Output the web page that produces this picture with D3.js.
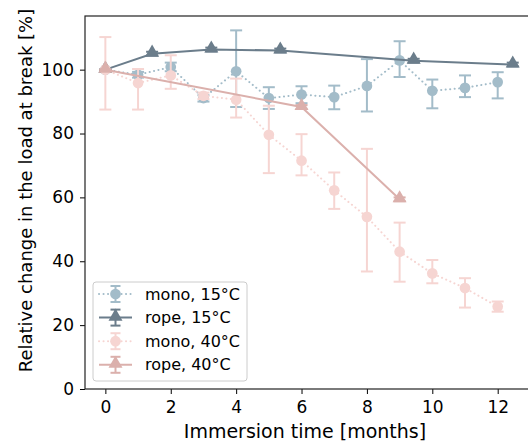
<!DOCTYPE html>
<html>
<head>
<meta charset="utf-8">
<script src="https://cdn.jsdelivr.net/npm/d3@7"></script>
<style>
  body { margin: 0; background: #fff; }
  svg { font-family: "DejaVu Sans", sans-serif; }
</style>
</head>
<body>
<div id="chart"></div>
<script>
// mono fibres, 15°C
const mono15X = [0, 1, 2, 3, 4, 5, 6, 7, 8, 9, 10, 11, 12];
const mono15Y = [100, 98.4, 100.8, 91.1, 99.5, 91.1, 92.2, 91.4, 94.9, 102.9, 93.4, 94.3, 96.1];
const mono15Lo = [100, 97.5, 99.5, 90, 88.3, 87.7, 89.5, 87.6, 86.9, 97.7, 87.9, 91.4, 91.0];
const mono15Hi = [100, 99.3, 102.2, 92, 112.3, 94.5, 94.8, 95.0, 103.3, 108.9, 96.9, 98.2, 99.2];

// rope, 15°C
const rope15X = [0, 1.43, 3.24, 5.35, 9.43, 12.46];
const rope15Y = [100, 105.0, 106.3, 106.0, 102.8, 101.6];
const rope15Lo = [100, 104.4, 105.7, 105.4, 102.2, 101.0];
const rope15Hi = [100, 105.6, 106.9, 106.6, 103.4, 102.2];

// mono fibres, 40°C
const mono40X = [0, 1, 2, 3, 4, 5, 6, 7, 8, 9, 10, 11, 12];
const mono40Y = [100, 95.8, 98.2, 91.8, 90.6, 79.6, 71.5, 62.2, 53.9, 43.0, 36.2, 31.6, 25.8];
const mono40Lo = [87.5, 87.5, 94.0, 90.8, 85.0, 67.6, 66.9, 56.4, 36.8, 33.6, 33.1, 25.5, 24.2];
const mono40Hi = [110.2, 100.2, 104.5, 92.8, 97.2, 88.7, 79.8, 67.8, 75.2, 52.1, 40.4, 34.7, 27.4];

// rope, 40°C
const rope40X = [0, 6, 9];
const rope40Y = [100, 88.3, 59.4];
const rope40Lo = [100, 87.7, 58.8];
const rope40Hi = [100, 88.9, 60.0];

const xTicks = [0, 2, 4, 6, 8, 10, 12];
const yTicks = [0, 20, 40, 60, 80, 100];

const series = [
  { name: "mono, 15°C", x: mono15X, y: mono15Y, lo: mono15Lo, hi: mono15Hi, color: "#a3bcc9", dotted: true, marker: "circle" },
  { name: "rope, 15°C", x: rope15X, y: rope15Y, lo: rope15Lo, hi: rope15Hi, color: "#6b7d8b", dotted: false, marker: "triangle" },
  { name: "mono, 40°C", x: mono40X, y: mono40Y, lo: mono40Lo, hi: mono40Hi, color: "#f6d5d2", dotted: true, marker: "circle" },
  { name: "rope, 40°C", x: rope40X, y: rope40Y, lo: rope40Lo, hi: rope40Hi, color: "#dbb0ac", dotted: false, marker: "triangle" }
];

const W = 528, H = 447;
const margin = { left: 85, top: 16 };
const plotW = 448, plotH = 373;

const svg = d3.select("#chart").append("svg")
  .attr("width", W)
  .attr("height", H);

const x = d3.scaleLinear().domain([-0.623, 13.08]).range([margin.left, margin.left + plotW]);
const y = d3.scaleLinear().domain([0, 116.8]).range([margin.top + plotH, margin.top]);

// axes
const xAxis = svg.append("g")
  .attr("transform", `translate(0,${margin.top + plotH})`)
  .call(d3.axisBottom(x).tickValues(xTicks).tickSize(5).tickPadding(7));
const yAxis = svg.append("g")
  .attr("transform", `translate(${margin.left},0)`)
  .call(d3.axisLeft(y).tickValues(yTicks).tickSize(5).tickPadding(6));

[xAxis, yAxis].forEach(a => {
  a.selectAll("text").attr("font-size", 17).attr("fill", "#000").attr("font-family", "DejaVu Sans");
  a.selectAll("line").attr("stroke", "#000").attr("stroke-width", 1);
  a.select(".domain").remove();
});

// spines
svg.append("rect")
  .attr("x", margin.left).attr("y", margin.top)
  .attr("width", plotW).attr("height", plotH)
  .attr("fill", "none").attr("stroke", "#222").attr("stroke-width", 1.2);

const tri = d3.symbol().type(d3.symbolTriangle).size(85);
const circ = d3.symbol().type(d3.symbolCircle).size(90);

series.forEach(s => {
  const g = svg.append("g");
  const pts = s.x.map((v, i) => ({ x: v, y: s.y[i], lo: s.lo[i], hi: s.hi[i] }));

  const line = d3.line().x(d => x(d.x)).y(d => y(d.y));
  g.append("path")
    .datum(pts)
    .attr("d", line)
    .attr("fill", "none")
    .attr("stroke", s.color)
    .attr("stroke-width", 2)
    .attr("stroke-linecap", s.dotted ? "round" : "butt")
    .attr("stroke-dasharray", s.dotted ? "0.1 4.4" : null);

  // error bars
  const eb = g.selectAll("g.eb").data(pts).enter().append("g");
  eb.append("line")
    .attr("x1", d => x(d.x)).attr("x2", d => x(d.x))
    .attr("y1", d => y(d.lo)).attr("y2", d => y(d.hi))
    .attr("stroke", s.color).attr("stroke-width", 2);
  [d => d.lo, d => d.hi].forEach(f => {
    eb.append("line")
      .attr("x1", d => x(d.x) - 6).attr("x2", d => x(d.x) + 6)
      .attr("y1", d => y(f(d))).attr("y2", d => y(f(d)))
      .attr("stroke", s.color).attr("stroke-width", 2);
  });

  g.selectAll("path.mk").data(pts).enter().append("path")
    .attr("d", s.marker === "circle" ? circ : tri)
    .attr("transform", d => `translate(${x(d.x)},${y(d.y) + (s.marker === "circle" ? 0 : -1)})`)
    .attr("fill", s.color);
});

// axis labels
svg.append("text")
  .attr("x", margin.left + 220)
  .attr("y", 438)
  .attr("text-anchor", "middle")
  .attr("font-size", 19)
  .text("Immersion time [months]");
svg.append("text")
  .attr("transform", `translate(32,${margin.top + plotH / 2 - 12}) rotate(-90)`)
  .attr("text-anchor", "middle")
  .attr("font-size", 18)
  .text("Relative change in the load at break [%]");

// legend
const lg = svg.append("g").attr("transform", "translate(93,282)");
lg.append("rect")
  .attr("width", 154).attr("height", 99)
  .attr("rx", 3)
  .attr("fill", "#fff").attr("fill-opacity", 0.8)
  .attr("stroke", "#ccc").attr("stroke-width", 1);

series.forEach((s, i) => {
  const cy = 12 + i * 23.6;
  const row = lg.append("g").attr("transform", `translate(0,${cy})`);
  row.append("line")
    .attr("x1", 6).attr("x2", 39).attr("y1", 0).attr("y2", 0)
    .attr("stroke", s.color).attr("stroke-width", 2)
    .attr("stroke-linecap", s.dotted ? "round" : "butt")
    .attr("stroke-dasharray", s.dotted ? "0.1 4.4" : null);
  row.append("line")
    .attr("x1", 22.5).attr("x2", 22.5).attr("y1", -8).attr("y2", 8)
    .attr("stroke", s.color).attr("stroke-width", 2);
  [-8, 8].forEach(dy => {
    row.append("line")
      .attr("x1", 17.5).attr("x2", 27.5).attr("y1", dy).attr("y2", dy)
      .attr("stroke", s.color).attr("stroke-width", 2);
  });
  row.append("path")
    .attr("d", s.marker === "circle" ? circ : tri)
    .attr("transform", `translate(22.5,${s.marker === "circle" ? 0 : -1})`)
    .attr("fill", s.color);
  row.append("text")
    .attr("x", 52).attr("y", 0).attr("dy", "0.35em")
    .attr("font-size", 16)
    .text(s.name);
});
</script>
</body>
</html>
